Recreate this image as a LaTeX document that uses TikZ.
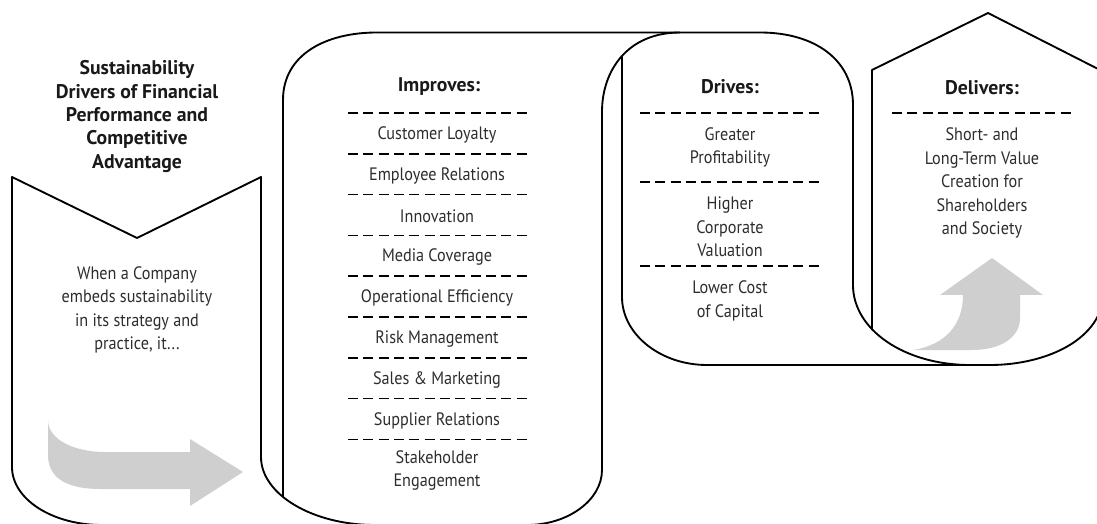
\documentclass[tikz,border=0pt]{standalone}
\usepackage{fontspec}
\setmainfont{PT Sans}[FakeStretch=0.9]
\newfontfamily\headfont{PT Sans}
\definecolor{arrowgray}{RGB}{207,207,207}
\definecolor{ink}{RGB}{45,45,45}
\tikzset{
  outline/.style={line width=1.4pt, line join=round},
  sepline/.style={line width=1.1pt, dash pattern=on 7.5pt off 4pt},
  item/.style={align=center, text=ink, inner sep=0pt, font=\fontsize{13.5}{17.6}\selectfont},
  head/.style={item, text=black!90, font=\headfont\bfseries\fontsize{14.8}{17.5}\selectfont},
}
\begin{document}
\begin{tikzpicture}[x=0.75pt, y=-0.75pt]
\useasboundingbox (0,0) rectangle (1097,524);

% outlines of the four panels
\draw[outline] (137,238) -- (12,177) -- (12,467) .. controls (12,499) and (52,525) .. (102,525) -- (527,525);
\draw[outline] (137,238) -- (261,177) -- (261,457) .. controls (261,494) and (312,525) .. (375,525);
\draw[outline] (283,497) -- (283,100) .. controls (283,55) and (325,32.5) .. (377,32.5) -- (760,32.5)
  .. controls (815,32.5) and (853,60) .. (853,105) -- (853,285) .. controls (853,330) and (905,365) .. (970,365);
\draw[outline] (527,525) .. controls (568,525) and (602,500) .. (602,470) -- (602,112)
  .. controls (602,70) and (628,32.5) .. (680,32.5);
\draw[outline] (622,57) -- (622,297) .. controls (622,334) and (660,365) .. (707,365) -- (990,365)
  .. controls (1045,365) and (1104,340) .. (1104,290) -- (1104,72);
\draw[outline] (872,330) -- (872,70) -- (988,13) -- (1104,72);

% gray arrows
\fill[arrowgray] (48,420) .. controls (48,440) and (75,452) .. (105,452) -- (190,452) -- (190,439)
  -- (243,472) -- (190,506) -- (190,489) -- (100,489) .. controls (70,489) and (48,480) .. (48,455) -- cycle;
\fill[arrowgray] (913,350) .. controls (945,345) and (963,325) .. (963,295) -- (940,295) -- (992,258)
  -- (1043,295) -- (1020,295) -- (1020,318) .. controls (1020,338) and (1000,350) .. (972,350) -- cycle;

% left panel
\node[head] (title) at (137,116.5) {Sustainability\\Drivers of Financial\\Performance and\\Competitive\\Advantage};
\node[item] (when) at (137,310) {When a Company\\embeds sustainability\\in its strategy and\\practice, it...};

% improves
\node[head] (improves) at (439,87) {Improves:};
\foreach \k in {0,...,8}
  \draw[sepline] (348,{113+40.8*\k}) -- (527,{113+40.8*\k});
\foreach \txt [count=\i] in {Customer Loyalty, Employee Relations, Innovation, Media Coverage,
    Operational Efficiency, Risk Management, Sales \& Marketing, Supplier Relations}
  \node[item] (imp\i) at (437,{94+40.8*\i}) {\txt};
\node[item] (imp9) at (437,470.5) {Stakeholder\\Engagement};

% drives
\node[head] (drives) at (730,87) {Drives:};
\foreach \y in {113,182,266}
  \draw[sepline] (640,\y) -- (819,\y);
\node[item] (profit) at (730,147.5) {Greater\\Profitability};
\node[item] (valuation) at (730,227) {Higher\\Corporate\\Valuation};
\node[item] (capital) at (730,301) {Lower Cost\\of Capital};

% delivers
\node[head] (delivers) at (982,88) {Delivers:};
\draw[sepline] (892,113) -- (1071,113);
\node[item] (value) at (982,183) {Short- and\\Long-Term Value\\Creation for\\Shareholders\\and Society};
\end{tikzpicture}
\end{document}
